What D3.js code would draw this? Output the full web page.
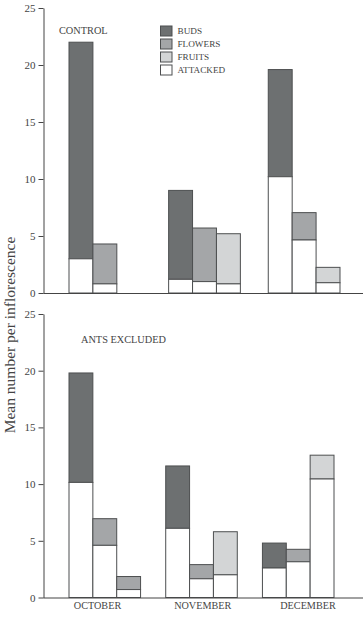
<!DOCTYPE html>
<html>
<head>
<meta charset="utf-8">
<script src="https://cdn.jsdelivr.net/npm/d3@7"></script>
<style>
  body { margin: 0; background: #fff; }
  svg { display: block; font-family: 'Liberation Serif', 'DejaVu Serif', serif; }
</style>
</head>
<body>
<div id="chart-area"></div>
<script>
'use strict';

// categories
let months = ['OCTOBER', 'NOVEMBER', 'DECEMBER'];
let stages = ['BUDS', 'FLOWERS', 'FRUITS'];
let legendItems = ['BUDS', 'FLOWERS', 'FRUITS', 'ATTACKED'];
let yTicks = [0, 5, 10, 15, 20, 25];

// control (total per bar, and attacked part of it); null = no bar
let controlBuds = [22.0, 9.0, 19.6];
let controlBudsAttacked = [3.0, 1.2, 10.2];
let controlFlowers = [4.3, 5.7, 7.05];
let controlFlowersAttacked = [0.8, 1.0, 4.65];
let controlFruits = [null, 5.2, 2.25];
let controlFruitsAttacked = [null, 0.8, 0.9];

// ants excluded
let excludedBuds = [19.8, 11.6, 4.8];
let excludedBudsAttacked = [10.15, 6.1, 2.6];
let excludedFlowers = [6.95, 2.9, 4.25];
let excludedFlowersAttacked = [4.6, 1.65, 3.15];
let excludedFruits = [1.85, 5.8, 12.55];
let excludedFruitsAttacked = [0.7, 2.0, 10.45];

let W = 363, H = 617;

let colours = d3.scaleOrdinal()
    .domain(legendItems)
    .range(['#6d7071', '#a4a6a8', '#d3d5d6', '#ffffff']);

let svg = d3.select('#chart-area').append('svg')
    .attr('width', W)
    .attr('height', H);

function rows(totals, attacked) {
    let out = [];
    stages.forEach((s, si) => {
        months.forEach((m, mi) => {
            if (totals[si][mi] == null) return;
            out.push({month: m, stage: s, total: totals[si][mi], attacked: attacked[si][mi]});
        });
    });
    return out;
}

let panels = [
    {
        title: 'CONTROL',
        data: rows([controlBuds, controlFlowers, controlFruits],
                   [controlBudsAttacked, controlFlowersAttacked, controlFruitsAttacked]),
        top: 8, bottom: 293, xRange: [69, 340], pad: 0.28,
        titleX: 59, titleY: 34, legend: true
    },
    {
        title: 'ANTS EXCLUDED',
        data: rows([excludedBuds, excludedFlowers, excludedFruits],
                   [excludedBudsAttacked, excludedFlowersAttacked, excludedFruitsAttacked]),
        top: 314, bottom: 597.5, xRange: [69, 334], pad: 0.26,
        titleX: 81, titleY: 342.5, legend: false
    }
];

let axisX = 43.5;

panels.forEach((p) => {
    let g = svg.append('g');

    let y = d3.scaleLinear().domain([0, 25]).range([p.bottom, p.top]);
    let x = d3.scaleBand().domain(months).range(p.xRange).paddingInner(p.pad).paddingOuter(0);
    let xs = d3.scaleBand().domain(stages).range([0, x.bandwidth()]);

    let bars = g.selectAll('g.bar')
        .data(p.data)
        .enter().append('g')
        .attr('class', 'bar')
        .attr('transform', (d) => 'translate(' + (x(d.month) + xs(d.stage)) + ',0)');

    // coloured upper part
    bars.append('rect')
        .attr('x', 0)
        .attr('width', xs.bandwidth())
        .attr('y', (d) => y(d.total))
        .attr('height', (d) => y(d.attacked) - y(d.total))
        .attr('fill', (d) => {
            // the oct fruits bar of the lower panel is printed in the flowers grey
            if (p.title === 'ANTS EXCLUDED' && d.month === 'OCTOBER' && d.stage === 'FRUITS') {
                return colours('FLOWERS');
            }
            return colours(d.stage);
        })
        .attr('stroke', '#4d4f50')
        .attr('stroke-width', 1);

    // attacked part
    bars.append('rect')
        .attr('x', 0)
        .attr('width', xs.bandwidth())
        .attr('y', (d) => y(d.attacked))
        .attr('height', (d) => y(0) - y(d.attacked))
        .attr('fill', colours('ATTACKED'))
        .attr('stroke', '#4d4f50')
        .attr('stroke-width', 1);

    // y axis
    let yAxis = d3.axisLeft(y).tickValues(yTicks).tickSize(5).tickPadding(3).tickSizeOuter(0);
    let ya = g.append('g')
        .attr('transform', 'translate(' + axisX + ',0)')
        .call(yAxis);
    ya.select('.domain').attr('stroke', '#444');
    ya.selectAll('.tick line').attr('stroke', '#444');
    ya.selectAll('.tick text')
        .attr('fill', '#444')
        .attr('font-size', '11px')
        .attr('font-family', 'Liberation Serif, serif');

    // baseline
    g.append('line')
        .attr('x1', axisX)
        .attr('x2', W)
        .attr('y1', y(0) + 0.5)
        .attr('y2', y(0) + 0.5)
        .attr('stroke', '#444')
        .attr('stroke-width', 1.2);

    g.append('text')
        .attr('x', p.titleX)
        .attr('y', p.titleY)
        .attr('font-size', '10.3px')
        .attr('fill', '#444')
        .text(p.title);

    if (p.legend) {
        let ly = d3.scaleBand().domain(legendItems).range([26, 78]);
        let lg = g.selectAll('g.legend')
            .data(legendItems)
            .enter().append('g')
            .attr('class', 'legend')
            .attr('transform', (d) => 'translate(160.5,' + ly(d) + ')');
        lg.append('rect')
            .attr('width', 11.5)
            .attr('height', 10)
            .attr('fill', (d) => colours(d))
            .attr('stroke', '#4d4f50')
            .attr('stroke-width', 1);
        lg.append('text')
            .attr('x', 17)
            .attr('y', 8)
            .attr('font-size', '9.2px')
            .attr('fill', '#444')
            .text((d) => d);
    }
});

// month labels under the lower panel
let monthX = d3.scalePoint().domain(months).range([97.5, 308]);
svg.selectAll('text.month')
    .data(months)
    .enter().append('text')
    .attr('class', 'month')
    .attr('x', (d) => monthX(d))
    .attr('y', 609)
    .attr('text-anchor', 'middle')
    .attr('font-size', '10.2px')
    .attr('fill', '#444')
    .text((d) => d);

// shared y label
svg.append('text')
    .attr('transform', 'translate(14.5,335) rotate(-90)')
    .attr('text-anchor', 'middle')
    .attr('font-size', '15.5px')
    .attr('fill', '#444')
    .text('Mean number per inflorescence');
</script>
</body>
</html>
